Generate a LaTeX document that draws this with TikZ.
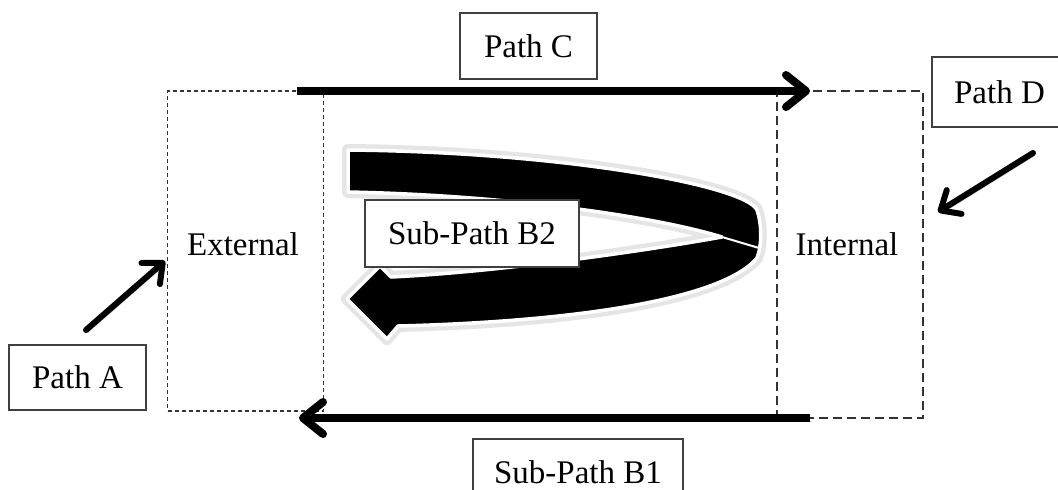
\documentclass[tikz,border=0pt]{standalone}
\usepackage{fontspec}
\setmainfont{Liberation Serif}
\usetikzlibrary{arrows.meta}
\begin{document}
\begin{tikzpicture}[x=1pt,y=-1pt,
  tag/.style={draw=black!75, line width=1.4pt, fill=white, inner sep=0pt,
    font=\fontsize{33}{38}\selectfont},
  word/.style={font=\fontsize{33}{38}\selectfont, inner sep=0pt},
  zone/.style={draw=black!80, line width=1.2pt, inner sep=0pt},
  shade/.style={preaction={draw=black!20, transform canvas={shift={(1.5pt,-3pt)}}}},
  flow/.style={line width=8pt, shade, -{Straight Barb[length=20pt,width=32pt,round]}},
  pointer/.style={line width=6pt, line cap=round, shade, -{Straight Barb[length=16pt,width=28pt,round]}},
  ribbon/.style={fill=black, draw=white, line width=3.5pt, line join=round,
    preaction={draw=black!10, line width=12pt, line join=round}}]
\clip (0,0) rectangle (1058,490);
\fill[white] (0,0) rectangle (1058,490);

% the two zones
\node[zone, dash pattern=on 4pt off 3pt, minimum width=156pt, minimum height=320pt] (ext) at (245.5,251) {};
\node[zone, dash pattern=on 9pt off 5pt, minimum width=146pt, minimum height=327pt] (int) at (850,254.5) {};
\node[word] (extlbl) at (243,244) {External};
\node[word] (intlbl) at (847,244) {Internal};

% sub-path B2: the folded ribbon arrow
\path[ribbon] (348,150) .. controls (560,152) and (745,185) .. (757,210)
  .. controls (762,225) and (762,245) .. (757,258)
  .. controls (720,302) and (560,322) .. (398,326)
  -- (387,339) -- (347,299) -- (380,266) -- (391,277)
  .. controls (500,272) and (650,250) .. (722,237)
  .. controls (650,215) and (500,195) .. (348,192) -- cycle;
\draw[white, line width=2pt] (722,237) -- (759,248);
\node[tag, minimum width=214pt, minimum height=67pt] (b2) at (472,233.5) {Sub-Path B2};

% main paths along the zone borders
\coordinate (c-from) at (297,91);
\coordinate (c-to) at (810,91);
\coordinate (b1-from) at (810,418);
\coordinate (b1-to) at (299,418);
\draw[flow] (c-from) -- (c-to);
\draw[flow] (b1-from) -- (b1-to);

% entry pointers
\coordinate (a-from) at (86,330);
\coordinate (a-to) at (165,261);
\coordinate (d-from) at (1033,153);
\coordinate (d-to) at (938,212);
\draw[pointer] (a-from) -- (a-to);
\draw[pointer] (d-from) -- (d-to);

% labels
\node[tag, minimum width=137pt, minimum height=66pt] (pc) at (528.5,46) {Path C};
\node[tag, minimum width=135pt, minimum height=70pt] (pd) at (999.5,92) {Path D};
\node[tag, minimum width=137pt, minimum height=65pt] (pa) at (77.5,377.5) {Path A};
\node[tag, minimum width=210pt, minimum height=66pt] (b1) at (578,472) {Sub-Path B1};
\end{tikzpicture}
\end{document}
